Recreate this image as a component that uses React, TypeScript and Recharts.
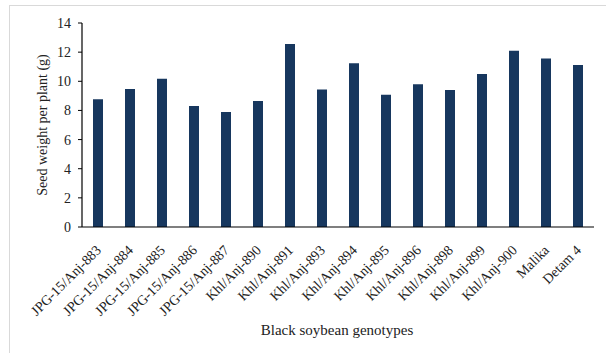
import { Bar, BarChart, XAxis, YAxis } from "recharts"

const genotypes = [
  "JPG-15/Anj-883",
  "JPG-15/Anj-884",
  "JPG-15/Anj-885",
  "JPG-15/Anj-886",
  "JPG-15/Anj-887",
  "Khl/Anj-890",
  "Khl/Anj-891",
  "Khl/Anj-893",
  "Khl/Anj-894",
  "Khl/Anj-895",
  "Khl/Anj-896",
  "Khl/Anj-898",
  "Khl/Anj-899",
  "Khl/Anj-900",
  "Malika",
  "Detam 4",
]

const seedWeight = [8.76, 9.47, 10.18, 8.3, 7.89, 8.65, 12.56, 9.44, 11.23, 9.08, 9.79, 9.4, 10.5, 12.1, 11.57, 11.12]

const yTicks = [0, 2, 4, 6, 8, 10, 12, 14]

const FONT = "'Liberation Serif', 'Times New Roman', serif"

const data = genotypes.map((name, i) => ({ name, value: seedWeight[i] }))

function GenotypeTick(props: any) {
  const { x, y, payload } = props
  const ax = x + 4
  const ay = y + 16
  return (
    <text
      x={ax}
      y={ay}
      transform={`rotate(-45, ${ax}, ${ay})`}
      textAnchor="end"
      fontFamily={FONT}
      fontSize={14}
      fill="#222"
    >
      {payload.value}
    </text>
  )
}

// y axis title, centred on the plot height
function YTitle(props: any) {
  const vb = props.viewBox || {}
  const cx = 42
  const cy = (vb.y ?? 23) + (vb.height ?? 204) / 2
  return (
    <text
      x={cx}
      y={cy}
      transform={`rotate(-90, ${cx}, ${cy})`}
      textAnchor="middle"
      dominantBaseline="central"
      fontFamily={FONT}
      fontSize={14}
      fill="#222"
    >
      Seed weight per plant (g)
    </text>
  )
}

export default function App() {
  return (
    <div style={{ position: "absolute", left: 0, top: 0, width: 606, height: 353, background: "#fff", overflow: "hidden" }}>
      <div
        style={{
          position: "absolute",
          left: 9,
          top: 5,
          width: 620,
          height: 380,
          border: "1px solid #d9d9d9",
        }}
      />
      <BarChart
        width={606}
        height={353}
        data={data}
        margin={{ top: 23, right: 12, bottom: 0, left: 0 }}
        barCategoryGap={11}
        style={{ position: "absolute", left: 0, top: 0 }}
      >
        <XAxis
          dataKey="name"
          interval={0}
          tick={<GenotypeTick />}
          tickLine={false}
          axisLine={{ stroke: "#000", strokeWidth: 1.2 }}
          height={126}
          label={{ value: "Black soybean genotypes", position: "insideBottom", offset: 18, fontFamily: FONT, fontSize: 15, fill: "#222", dx: -1 }}
        />
        <YAxis
          domain={[0, 14]}
          ticks={yTicks}
          width={82}
          tickSize={4}
          tickMargin={7}
          tick={{ fontFamily: FONT, fontSize: 14, fill: "#222" }}
          tickLine={{ stroke: "#000" }}
          axisLine={{ stroke: "#000", strokeWidth: 1.2 }}
          label={{ content: <YTitle /> }}
        />
        <Bar dataKey="value" fill="#17375E" isAnimationActive={false} />
      </BarChart>
    </div>
  )
}
